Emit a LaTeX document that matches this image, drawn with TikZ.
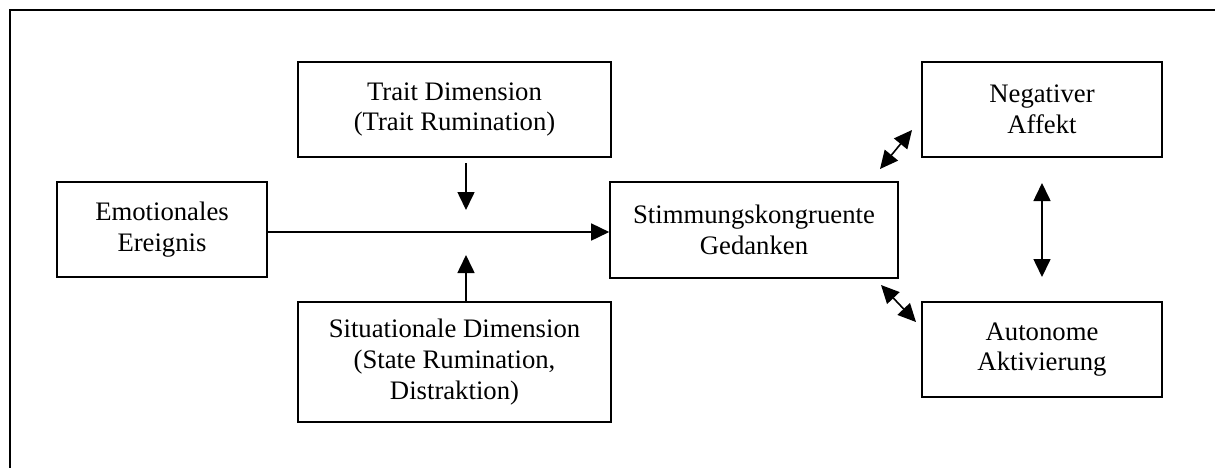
\documentclass[tikz,border=0pt]{standalone}
\usepackage{fontspec}
\setmainfont{Liberation Serif}
\usetikzlibrary{arrows.meta}
\begin{document}
\begin{tikzpicture}[x=1pt,y=-1pt,
  box/.style={draw,line width=1.6pt,rectangle,inner sep=0pt,align=center,
    font=\fontsize{26.7}{30.7}\selectfont},
  arr/.style={line width=1.6pt,-{Triangle[length=18pt,width=17pt]}},
  dbl/.style={line width=1.6pt,{Triangle[length=18pt,width=17pt]}-{Triangle[length=18pt,width=17pt]}}]
  \useasboundingbox (0,0) rectangle (1215,467);

  % frame: only the top and left edges fall inside the page
  \draw[line width=2pt] (1216,9.5) -- (10,9.5) -- (10,468);

  % boxes
  \node[box,minimum width=210pt,minimum height=95pt] (emo) at (162,229.5)
    {Emotionales\\Ereignis};
  \node[box,minimum width=313pt,minimum height=95pt] (trait) at (454.5,109.5)
    {Trait Dimension\\(Trait Rumination)};
  \node[box,minimum width=313pt,minimum height=120pt] (sit) at (454.5,362)
    {Situationale Dimension\\(State Rumination,\\Distraktion)};
  \node[box,minimum width=288pt,minimum height=96pt] (stim) at (754,230)
    {Stimmungskongruente\\Gedanken};
  \node[box,minimum width=240pt,minimum height=95pt] (neg) at (1042,109.5)
    {Negativer\\Affekt};
  \node[box,minimum width=240pt,minimum height=95pt] (aut) at (1042,349.5)
    {Autonome\\Aktivierung};

  % free arrow ends
  \coordinate (t1) at (466,163);
  \coordinate (t2) at (466,210);
  \coordinate (s1) at (466,302);
  \coordinate (s2) at (466,255);
  \coordinate (n1) at (880,169);
  \coordinate (n2) at (912,130);
  \coordinate (a1) at (881,285);
  \coordinate (a2) at (916,322);
  \coordinate (v1) at (1042,183);
  \coordinate (v2) at (1042,277);

  % connectors
  \draw[arr] ([yshift=-2.5pt]emo.east) -- ([yshift=-2pt]stim.west);
  \draw[arr] (t1) -- (t2);
  \draw[arr] (s1) -- (s2);
  \draw[dbl] (n1) -- (n2);
  \draw[dbl] (a1) -- (a2);
  \draw[dbl] (v1) -- (v2);
\end{tikzpicture}
\end{document}
